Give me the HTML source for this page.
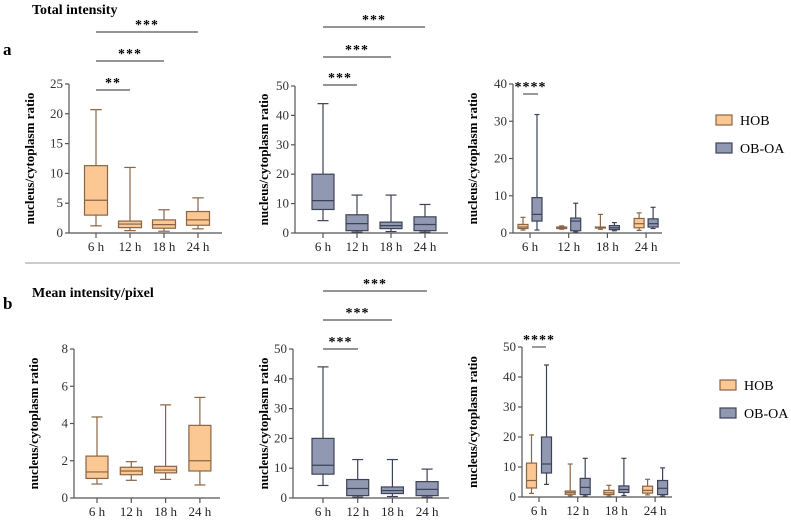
<!DOCTYPE html>
<html><head><meta charset="utf-8"><style>
html,body{margin:0;padding:0;background:#fff;}
svg, svg text{font-family:"Liberation Serif","DejaVu Serif",serif;}
</style></head><body>
<svg id="fig" width="791" height="525" viewBox="0 0 791 525" xmlns="http://www.w3.org/2000/svg" font-family="Liberation Serif, serif">
<text x="32" y="14" font-size="14" font-weight="bold" font-family="Liberation Serif, serif">Total intensity</text>
<text x="3" y="55" font-size="17" font-weight="bold" font-family="Liberation Serif, serif">a</text>
<line x1="25" y1="263" x2="680" y2="263" stroke="#999" stroke-width="1"/>
<text x="32" y="297" font-size="14" font-weight="bold" font-family="Liberation Serif, serif">Mean intensity/pixel</text>
<text x="3" y="309" font-size="17" font-weight="bold" font-family="Liberation Serif, serif">b</text>
</svg>
<script>
const categories = ["6 h","12 h","18 h","24 h"];
// [min, q1, median, q3, max]
const hobTotal = [[1.2,3,5.5,11.3,20.7],[0.4,0.9,1.5,2.0,11],[0.3,0.8,1.4,2.2,3.9],[0.7,1.3,2.2,3.6,5.9]];
const oboaTotal = [[4.2,8,11,20,44],[0.3,0.8,3.2,6.2,12.9],[0.5,1.5,2.5,3.7,12.9],[0.3,0.8,2.9,5.5,9.7]];
const hobRatioTotal = [[0.8,1.2,1.6,2.3,4.2],[1,1.2,1.4,1.6,1.9],[1,1.4,1.5,1.6,5],[0.7,1.4,2.5,3.9,5.4]];
const oboaRatioTotal = [[0.8,3.2,5,9.5,31.8],[0.3,0.6,3.2,4,8],[0.6,0.9,1.4,2,2.8],[1.2,1.6,2.5,3.8,6.9]];
const hobMean = [[0.75,1.05,1.4,2.25,4.35],[0.95,1.25,1.45,1.65,1.95],[1.0,1.35,1.5,1.7,5.0],[0.7,1.45,2.0,3.9,5.4]];
const ticksA1 = [0,5,10,15,20,25];
const ticks50 = [0,10,20,30,40,50];
const ticks40 = [0,10,20,30,40];
const ticks8 = [0,2,4,6,8];

const NS="http://www.w3.org/2000/svg";
const FF="Liberation Serif, serif";
const svg=document.getElementById('fig');
const ORANGE={fill:"#fbc894",stroke:"#8a6545"}, BLUE={fill:"#9099b1",stroke:"#3c4358"};
function mk(tag,attrs,parent){const e=document.createElementNS(NS,tag);for(const k in attrs)e.setAttribute(k,attrs[k]);if(tag==='text')e.setAttribute('font-family',FF);(parent||svg).appendChild(e);return e;}

function panel(p){
  const g=mk('g',{});
  
  
  const ymax=p.ticks[p.ticks.length-1];
  const Y=v=>p.y0-(v/ymax)*(p.y0-p.yTop);
  const X=i=>p.cx0+i*p.step;
  const ya=mk('line',{x1:p.ax,y1:p.yTop,x2:p.ax,y2:p.y0,stroke:"#555","stroke-width":1.2},g);
  
  
  const xa=mk('line',{x1:p.ax,y1:p.y0,x2:p.axEnd,y2:p.y0,stroke:"#555","stroke-width":1.2},g);
  
  
  p.ticks.forEach(t=>{
    mk('line',{x1:p.ax-4,y1:Y(t),x2:p.ax,y2:Y(t),stroke:"#555","stroke-width":1.2},g);
    const tx=mk('text',{x:p.ax-6,y:Y(t)+4,"font-size":13,"text-anchor":"end",fill:"#333"},g);
    tx.textContent=t;
    
    
  });
  categories.forEach((c,i)=>{
    mk('line',{x1:X(i),y1:p.y0,x2:X(i),y2:p.y0+5,stroke:"#555","stroke-width":1.2},g);
    const tx=mk('text',{x:X(i),y:p.y0+18,"font-size":13,"text-anchor":"middle",fill:"#222"},g);
    tx.textContent=c;
    
    
  });
  const yl=mk('text',{x:p.ylx,y:(p.yTop+p.y0)/2,"font-size":13,"font-weight":"bold","text-anchor":"middle",transform:`rotate(-90 ${p.ylx} ${(p.yTop+p.y0)/2})`},g);
  yl.textContent="nucleus/cytoplasm ratio";
  
  
  p.series.forEach(s=>{
    s.data.forEach((d,i)=>{
      const cx=X(i)+s.off, w=s.w;
      const [mn,q1,md,q3,mx]=d;
      const bg=mk('g',{},g);
      
      
      const st={stroke:s.c.stroke,"stroke-width":1.2};
      mk('line',Object.assign({x1:cx,y1:Y(mx),x2:cx,y2:Y(q3)},st),bg);
      mk('line',Object.assign({x1:cx,y1:Y(q1),x2:cx,y2:Y(mn)},st),bg);
      mk('line',Object.assign({x1:cx-w*0.25,y1:Y(mx),x2:cx+w*0.25,y2:Y(mx)},st),bg);
      mk('line',Object.assign({x1:cx-w*0.25,y1:Y(mn),x2:cx+w*0.25,y2:Y(mn)},st),bg);
      mk('rect',Object.assign({x:cx-w/2,y:Y(q3),width:w,height:Math.max(1,Y(q1)-Y(q3)),fill:s.c.fill},st),bg);
      mk('line',Object.assign({x1:cx-w/2,y1:Y(md),x2:cx+w/2,y2:Y(md)},st),bg);
    });
  });
  (p.sig||[]).forEach(sg=>{
    const l=mk('line',{x1:sg.x1,y1:sg.y,x2:sg.x2,y2:sg.y,stroke:"#555","stroke-width":1.2},g);
    
    
    const t=mk('text',{x:(sg.x1+sg.x2)/2,y:sg.y-3,"font-size":14,"font-weight":"bold","text-anchor":"middle","letter-spacing":"1"},g);
    t.textContent=sg.txt;
    
    
  });
  if(p.legend){
    [["HOB",ORANGE],["OB-OA",BLUE]].forEach((L,k)=>{
      const lg=mk('g',{},g);
      
      
      const yy=p.legend.y+k*p.legend.dy;
      mk('rect',{x:p.legend.x,y:yy-5,width:16,height:10,fill:L[1].fill,stroke:L[1].stroke,"stroke-width":1.2},lg);
      const t=mk('text',{x:p.legend.x+24,y:yy+5,"font-size":14},lg);
      t.textContent=L[0];
    });
  }
}

panel({name:'chart-a-hob',ax:69,axEnd:222,yTop:84,y0:233,ticks:ticksA1,cx0:96,step:34,ylx:34,
  series:[{key:'hob',data:hobTotal,off:0,w:23,c:ORANGE}],
  sig:[{x1:96,x2:130,y:90,txt:"**"},{x1:96,x2:164,y:61,txt:"***"},{x1:96,x2:198,y:32,txt:"***"}]});
panel({name:'chart-a-oboa',ax:295,axEnd:448,yTop:86,y0:233,ticks:ticks50,cx0:323,step:34,ylx:268,
  series:[{key:'oboa',data:oboaTotal,off:0,w:22,c:BLUE}],
  sig:[{x1:323,x2:357,y:85,txt:"***"},{x1:323,x2:391,y:57,txt:"***"},{x1:323,x2:425,y:27,txt:"***"}]});
panel({name:'chart-a-combined',ax:513,axEnd:662,yTop:84,y0:233,ticks:ticks40,cx0:530,step:38.7,ylx:477,
  series:[{key:'hob',data:hobRatioTotal,off:-7,w:10,c:ORANGE},{key:'oboa',data:oboaRatioTotal,off:7,w:10,c:BLUE}],
  sig:[{x1:523,x2:538,y:94,txt:"****"}],legend:{x:716,y:120,dy:28}});
panel({name:'chart-b-hob',ax:74,axEnd:220,yTop:349,y0:498,ticks:ticks8,cx0:97,step:34.3,ylx:38,
  series:[{key:'hob',data:hobMean,off:0,w:22,c:ORANGE}]});
panel({name:'chart-b-oboa',ax:293,axEnd:449,yTop:349,y0:498,ticks:ticks50,cx0:323,step:34.7,ylx:268,
  series:[{key:'oboa',data:oboaTotal,off:0,w:22,c:BLUE}],
  sig:[{x1:323,x2:358,y:349,txt:"***"},{x1:323,x2:392,y:320,txt:"***"},{x1:323,x2:427,y:291,txt:"***"}]});
panel({name:'chart-b-combined',ax:522,axEnd:672,yTop:347,y0:497,ticks:ticks50,cx0:539,step:38.7,ylx:477,
  series:[{key:'hob',data:hobTotal,off:-7.5,w:10,c:ORANGE},{key:'oboa',data:oboaTotal,off:7.5,w:10,c:BLUE}],
  sig:[{x1:532,x2:546,y:347,txt:"****"}],legend:{x:720,y:385,dy:28}});
</script>
</body></html>
